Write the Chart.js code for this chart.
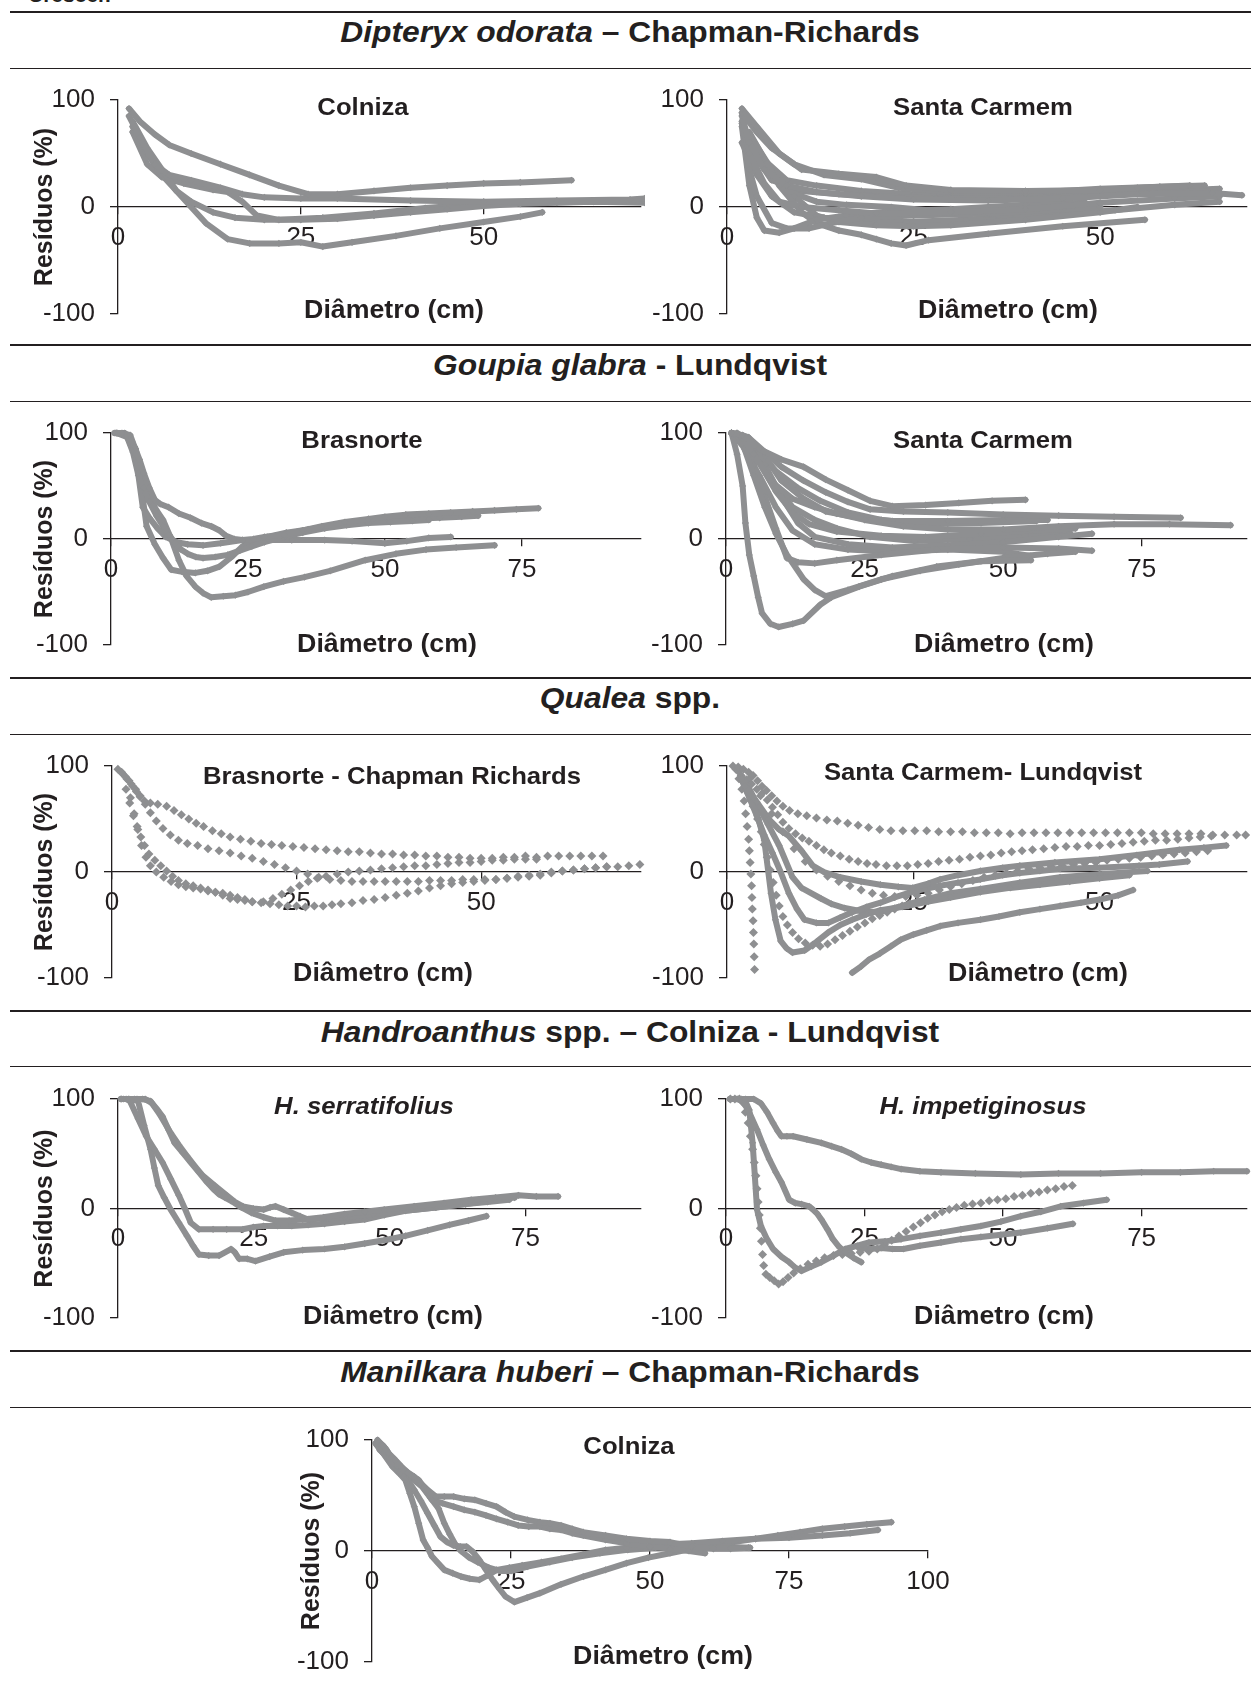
<!DOCTYPE html>
<html lang="pt">
<head>
<meta charset="UTF-8">
<title>Resíduos por diâmetro</title>
<script src="https://cdn.jsdelivr.net/npm/chart.js"></script>
<style>
  body { margin: 0; background: #fff; }
  #page { position: relative; width: 1251px; height: 1684px; overflow: hidden;
          font-family: "Liberation Sans", Arial, sans-serif; color: #231f20; }
  .rule { position: absolute; left: 10px; right: 0; background: #231f20; }
  .thick { height: 2px; }
  .thin { height: 1.3px; }
  .head { position: absolute; left: 0; width: 1260px; text-align: center;
          font-size: 30px; font-weight: bold; line-height: 1; white-space: nowrap;
          transform: scaleX(1.06); transform-origin: 630px 0; }
  .frag { position: absolute; left: 28px; top: -17px; font-size: 21px; font-weight: bold; }
  canvas { position: absolute; }
</style>
</head>
<body>
<div id="page">
  <div class="frag">Crescer.</div>
  <div class="rule thick" style="top:11px"></div>
  <div class="head" style="top:17px"><i>Dipteryx odorata</i> – Chapman-Richards</div>
  <div class="rule thin" style="top:67.5px"></div>
  <div class="rule thick" style="top:344px"></div>
  <div class="head" style="top:350px"><i>Goupia glabra</i> - Lundqvist</div>
  <div class="rule thin" style="top:400.5px"></div>
  <div class="rule thick" style="top:677px"></div>
  <div class="head" style="top:683px"><i>Qualea</i> spp.</div>
  <div class="rule thin" style="top:733.5px"></div>
  <div class="rule thick" style="top:1010px"></div>
  <div class="head" style="top:1017px"><i>Handroanthus</i> spp. – Colniza - Lundqvist</div>
  <div class="rule thin" style="top:1065.5px"></div>
  <div class="rule thick" style="top:1350px"></div>
  <div class="head" style="top:1357px"><i>Manilkara huberi</i> – Chapman-Richards</div>
  <div class="rule thin" style="top:1406.5px"></div>
</div>

<script>
// ---- data: residuals (%) against diameter (cm), one [x, y] list per tree ----
const dipteryxColniza = [
  [[1.5,92],[3,80],[5,68],[7,58],[10,50],[14,40],[18,30],[22,20],[26,12],[30,12],[35,15],[40,18],[45,20],[50,22],[55,23],[62,25]],
  [[1.5,85],[3,65],[5,40],[7,30],[10,25],[14,18],[17,12],[20,9],[25,8],[30,8],[40,6],[50,5],[60,6],[70,7],[72,8]],
  [[2,80],[4,55],[6,35],[8,15],[10,5],[13,-5],[16,-10],[20,-12],[25,-12],[30,-11],[35,-8],[40,-5],[45,-2],[50,1],[55,3],[60,4],[65,5],[72,6]],
  [[2,75],[4,50],[6,30],[8,15],[10,0],[12,-15],[15,-30],[18,-34],[22,-34],[25,-33],[28,-37],[32,-33],[38,-27],[44,-20],[50,-14],[55,-9],[58,-5]],
  [[2,70],[4,40],[6,28],[9,22],[13,16],[15,14],[17,5],[19,-8],[22,-12],[28,-10],[35,-6],[42,-1],[48,2],[55,4],[65,5],[72,4]]
];
const dipteryxSantaCarmem = [
  [[2,92],[4,75],[7,50],[10,35],[15,31],[20,28],[24,20],[30,16],[40,15],[50,16],[55,18],[62,20]],
  [[2,88],[4,70],[6,55],[9,40],[13,30],[18,26],[23,18],[30,14],[40,13],[50,17],[58,19],[64,20]],
  [[2,85],[3,60],[5,35],[8,20],[12,14],[18,10],[25,7],[35,6],[45,8],[55,12],[65,13],[69,11]],
  [[2,80],[3,50],[5,22],[7,5],[10,0],[15,-3],[20,-6],[30,-5],[40,-2],[50,4],[60,8],[66,10]],
  [[2,78],[3,35],[4,10],[6,-15],[8,-20],[11,-20],[14,-15],[18,-10],[25,-8],[35,-6],[45,-2],[50,0]],
  [[2,75],[3,20],[4,-10],[5,-22],[7,-24],[9,-20],[12,-12],[16,-8],[22,-4],[30,-2],[40,2],[48,4]],
  [[3,70],[5,45],[7,20],[10,-5],[12,-15],[15,-22],[18,-26],[20,-30],[22,-34],[24,-36],[27,-31],[35,-25],[45,-18],[56,-12]],
  [[3,68],[6,35],[9,10],[12,-8],[15,-14],[20,-17],[25,-18],[30,-17],[40,-12],[50,-5],[55,0]],
  [[3,65],[5,40],[8,15],[12,5],[16,2],[22,0],[30,-5],[38,-8],[45,-6]],
  [[2,60],[4,30],[6,10],[9,-5],[13,-10],[18,-12],[24,-14],[32,-12],[42,-8],[52,-3],[60,2],[66,5]],
  [[3,55],[6,25],[10,15],[15,12],[20,10],[28,8],[38,9],[48,12],[58,15],[66,17]],
  [[4,50],[8,25],[12,20],[18,15],[25,12],[35,10],[45,12],[55,15],[62,18]]
];
const goupiaBrasnorte = [
  [[0.6,100],[2,100],[3.5,98],[4.3,87],[5.2,75],[6,62],[7,48],[8,37],[9,33],[10.5,30],[12.4,24],[14.5,20],[16.5,15],[18.3,12],[19.8,8],[21,3],[22.5,0],[24,-1],[26,0],[28,2],[31.6,4],[35,8],[38.5,12],[42.7,16],[47,19],[50,21],[53.8,23],[58,24],[62,25],[66,26],[70,27],[74,28],[78,29]],
  [[0.8,100],[2.5,100],[3.8,92],[4.5,80],[5,62],[6,48],[7,35],[8.3,22],[9.5,12],[10.6,4],[11.7,-4],[12.8,-10],[14,-14],[15.5,-17],[16.8,-18],[19,-17],[21.3,-15],[23.5,-11],[25.7,-7],[28,-3],[31.6,2],[35,6],[39,10],[43,13],[47,15],[51,16],[55,17],[58,18]],
  [[1,100],[2.8,98],[4,82],[5,60],[5.8,30],[7,20],[8.5,10],[10,2],[12,-3],[14,-5],[16.8,-6],[20,-4],[24,-1],[28,-1],[33,-1],[39,-1],[44,-2],[50,-4],[54,-2],[58,1],[62,2]],
  [[1.2,100],[3,97],[4.5,85],[5.8,56],[7,40],[8.2,28],[9.5,18],[11,0],[12.4,-20],[13.8,-35],[15.4,-45],[16.8,-51],[18.3,-55],[20.5,-54],[22.7,-53],[25,-50],[27.9,-45],[31.5,-40],[35.3,-36],[40,-30],[46.4,-20],[52,-14],[57.5,-10],[63,-8],[70,-6]],
  [[1,100],[3,96],[4.4,80],[5.5,50],[6.5,12],[8,-5],[9.5,-18],[11,-29],[13,-31],[15.4,-32],[17.6,-30],[19.8,-26],[22,-17],[24,-7],[26,-2],[28.5,2],[32,6],[36,9],[40,12],[45,15],[50,17],[55,19],[60,20],[64,21],[67,22]]
];
const goupiaSantaCarmem = [
  [[1,100],[3,98],[6,85],[10,75],[14,68],[18,56],[22,46],[26,36],[30,31],[36,32],[42,34],[48,36],[54,37]],
  [[1,100],[4,96],[7,82],[10,68],[14,55],[18,44],[22,35],[26,28],[32,26],[40,25],[50,23],[60,22],[70,21],[82,20]],
  [[1,100],[3,95],[5,80],[8,55],[12,38],[16,30],[20,24],[25,18],[32,12],[40,9],[50,9],[60,12],[70,14],[80,14],[91,13]],
  [[1,100],[2,80],[3,50],[3.5,15],[4.2,-15],[5,-35],[5.8,-55],[6.5,-70],[8,-80],[9.5,-83],[12,-80],[14,-77],[17,-62],[19,-55],[24,-45],[30,-35],[38,-26],[46,-21],[55,-20]],
  [[1,100],[3,90],[5,60],[7,30],[9,5],[11,-15],[14,-38],[16,-48],[18,-54],[22,-48],[28,-38],[35,-30],[42,-24],[50,-18],[58,-14],[63,-12]],
  [[1,100],[3,92],[5,70],[7,40],[9,10],[11,-18],[13,-22],[16,-23],[20,-20],[28,-15],[38,-10],[50,-8],[60,-9],[66,-11]],
  [[1,100],[3,94],[6,72],[9,45],[12,25],[15,14],[20,7],[28,3],[36,2],[46,5],[55,8],[63,10]],
  [[1,100],[4,92],[7,70],[10,40],[13,15],[16,2],[22,-5],[30,-8],[40,-6],[50,-3],[60,2],[66,5]],
  [[1,100],[3,88],[6,60],[9,30],[12,8],[16,-5],[22,-10],[30,-12],[40,-10],[50,-12],[55,-16]],
  [[1,100],[4,96],[7,78],[10,55],[14,38],[18,26],[24,20],[30,17],[40,17],[50,18],[58,18]],
  [[1,100],[3,96],[6,75],[9,50],[12,30],[16,18],[20,10],[26,2],[34,-2],[44,0],[54,3],[62,6]],
  [[2,100],[5,88],[9,64],[13,48],[17,36],[22,25],[28,18],[36,14],[46,15],[56,17]]
];
const qualeaBrasnorteDots = [
  [[0.8,97],[1.3,94],[1.8,90],[2.3,86],[2.8,81],[3.3,76],[3.8,71],[4.4,67],[5.2,65],[6.2,64],[7.4,62],[8.4,58],[9.4,54],[10.4,50],[11.4,46],[12.4,43],[13.6,39],[14.8,36],[16,33],[17.4,31],[18.8,29],[20.2,27],[21.6,26],[23,25],[24.5,24],[26,23],[27.5,22],[29,21],[30.5,20],[32,19],[33.5,19],[35,18],[36.5,17],[38,17],[39.5,16],[41,16],[42.5,15],[44,15],[45.5,14],[47,14],[48.5,13],[50,13],[51.5,13],[53,14],[54.5,14],[56,15],[57.5,14],[59,15],[60.5,15],[62,15],[63.5,15],[65,15],[66.5,15]],
  [[1.4,93],[2,88],[2.6,83],[3.2,78],[3.8,72],[4.5,64],[5.2,56],[6,48],[6.9,41],[7.9,35],[9,30],[10.2,27],[11.6,25],[13,22],[14.5,20],[16,18],[17.5,15],[19,13],[20.5,10],[22,7],[23.5,4],[25,1],[26.5,-2],[28,-5],[29.5,-7],[31,-8],[32.5,-9],[34,-9],[35.5,-9],[37,-9],[38.5,-9],[40,-9],[41.5,-9],[43,-8],[44.5,-8],[46,-8],[47.5,-7],[49,-7],[50.5,-7],[52,-7],[53.5,-6],[55,-4],[56.5,-3],[58,-2],[59.5,0],[61,1],[62.5,2],[64,3],[65.5,4],[67,5],[68.5,5],[70,6],[71.5,7]],
  [[1.9,78],[2.4,65],[2.9,53],[3.4,43],[3.9,33],[4.4,25],[5,17],[5.8,11],[6.6,6],[7.4,1],[8.2,-4],[9,-8],[10,-11],[11,-13],[12,-15],[13,-17],[14,-19],[15,-22],[16,-25],[17,-26],[18,-27],[19,-28],[20.5,-28],[21.8,-25],[23,-21],[24.2,-17],[25.4,-13],[26.6,-9],[27.8,-6],[29,-4],[30.5,-2],[32,0],[33.5,1],[35,2],[36.5,3],[38,4],[39.5,5],[41,6],[42.5,6],[44,7],[45.5,8],[47,9],[48.5,9],[50,10],[51.5,11],[53,11],[54.5,12],[56,12],[57.5,12]],
  [[2.5,70],[3,55],[3.5,40],[4,25],[4.6,14],[5.2,6],[6,0],[7,-5],[8,-9],[9,-12],[10,-14],[11,-15],[12,-16],[13,-18],[14,-19],[15,-20],[16,-22],[17,-24],[18,-26],[19,-28],[20.2,-29],[21.4,-30],[22.6,-31],[23.8,-32],[25,-32],[26.2,-33],[27.4,-32],[28.6,-32],[29.8,-31],[31,-30],[32.5,-29],[34,-27],[35.5,-26],[37,-24],[38.5,-22],[40,-20],[41.5,-18],[43,-15],[44.5,-13],[46,-11],[47.5,-10],[49,-9],[50.5,-8],[52,-7],[53.5,-6],[55,-5],[56.5,-4],[58,-3],[59.5,-1],[61,1],[62.5,2],[64,3],[65.5,4],[67,5]]
];
const qualeaSantaCarmem = [
  [[2.4,81],[4,66],[5.6,50],[7,40],[8.3,34],[10,20],[11.5,6],[13,0],[15.2,-5],[18,-9],[20.6,-12],[23,-14],[24.9,-15],[27,-11],[28.6,-7],[31,-3],[34,1],[37,4],[39.3,6],[44,9],[50,12],[55,16],[60.7,21],[64,23],[67,25]],
  [[1.9,88],[3,70],[4,53],[5,35],[6.1,18],[7.2,0],[8.3,-20],[9.4,-35],[10.4,-45],[12,-48],[13.6,-48],[15.2,-43],[16.8,-38],[18.7,-33],[20.6,-29],[22.5,-24],[24.3,-20],[26.5,-16],[28.6,-13],[31,-10],[34,-7],[37,-3],[39.3,-1],[42,1],[44.7,3],[50,4],[55.3,6],[58,7],[61.8,10]],
  [[2,90],[3,75],[4,55],[5,30],[5.9,-20],[6.5,-45],[7.2,-65],[8,-72],[8.8,-76],[10.4,-74],[12,-66],[13.6,-57],[15.2,-50],[16.8,-45],[18.7,-40],[20.6,-36],[22.5,-34],[24.3,-32],[27,-28],[30,-24],[34,-19],[38,-15],[42,-12],[46,-9],[50,-6],[54,-3]],
  [[16.8,-95],[18,-89],[19,-83],[20.5,-77],[22,-70],[23.3,-64],[25,-59],[26.8,-55],[28.6,-51],[31,-48],[34,-45],[36.5,-42],[39.3,-38],[42,-35],[44.7,-32],[47.5,-29],[50,-26],[52.5,-22],[54.5,-17]],
  [[2.5,85],[4,65],[5.5,45],[7,25],[8.8,-5],[10,-15],[12.6,-25],[14,-30],[15.8,-34],[18,-37],[20.6,-38],[23,-33],[26.5,-26],[30,-20],[34,-16],[39.3,-10],[44.7,-5],[50,-2],[56.4,1]]
];
const qualeaSantaCarmemDots = [
  [[0.8,100],[1.5,99],[2.2,97],[2.9,94],[3.5,91],[4.1,86],[4.7,81],[5.3,77],[6,72],[6.7,67],[7.5,62],[8.4,58],[9.5,55],[10.7,53],[12,51],[13.4,49],[14.8,48],[16.2,46],[17.6,44],[19,42],[20.5,40],[22,39],[23.6,39],[25.2,39],[26.8,39],[28.4,38],[30,38],[31.6,38],[33.2,37],[34.8,37],[36.4,37],[38,36],[39.6,37],[41.2,37],[42.8,37],[44.4,37],[46,37],[47.6,37],[49.2,37],[50.8,37],[52.4,37],[54,37],[55.6,37],[57.2,36],[58.8,36],[60.4,36],[62,36],[63.6,36],[65.2,35],[66.8,35],[68.4,35],[69.6,35]],
  [[1.9,91],[2.6,87],[3.3,83],[4,78],[4.7,74],[5.4,68],[6.1,61],[6.8,54],[7.5,47],[8.3,41],[9.2,36],[10.1,32],[11,29],[12,25],[13,21],[14,18],[15.2,15],[16.4,12],[17.6,10],[18.8,8],[20,7],[21.4,6],[22.8,6],[24.2,6],[25.6,7],[27,8],[28.4,10],[29.8,11],[31.2,12],[32.6,14],[34,15],[35.4,16],[36.8,18],[38.2,19],[39.6,20],[41,21],[42.5,22],[44,23],[45.5,24],[47,24],[48.5,25],[50,25],[51.5,26],[53,27],[54.5,28],[56,29],[57.5,30],[59,30],[60.5,31],[62,32],[63.5,33],[65,34]],
  [[1.2,97],[1.6,88],[2,78],[2.3,67],[2.5,55],[2.7,43],[2.9,31],[3,20],[3.1,9],[3.2,-2],[3.3,-13],[3.35,-24],[3.4,-35],[3.5,-46],[3.55,-57],[3.6,-68],[3.65,-80],[3.7,-92]],
  [[1.5,95],[2.2,85],[2.9,74],[3.5,62],[4.1,50],[4.6,38],[5,26],[5.4,14],[5.8,2],[6.2,-10],[6.6,-22],[7,-32],[7.5,-42],[8.1,-50],[8.8,-57],[9.6,-63],[10.5,-67],[11.5,-69],[12.5,-70],[13.5,-68],[14.5,-64],[15.5,-60],[16.5,-56],[17.5,-52],[18.5,-48],[19.5,-44],[20.5,-41],[21.5,-38],[22.5,-35],[23.5,-32],[24.5,-30]],
  [[3,88],[4.5,72],[6,55],[7.5,38],[9,22],[10.5,10],[12,2],[13.5,-4],[15,-9],[16.5,-13],[18,-17],[19.5,-20],[21,-22],[22.5,-23],[24,-23],[25.5,-22],[27,-20],[28.5,-17],[30,-14],[31.5,-11],[33,-8],[34.5,-5],[36,-3],[37.5,-1],[39,1],[40.5,3],[42,4],[43.5,5],[45,6],[46.5,7],[48,8],[49.5,9],[51,11],[52.5,12],[54,13],[55.5,14],[57,15],[58.5,16],[60,17],[61.5,18],[63,19],[64.5,20]]
];
const serratifolius = [
  [[0.7,100],[2,100],[3.5,100],[5,100],[6.3,96],[7.3,90],[8.2,84],[9.3,72],[10.4,60],[11.9,51],[13.4,42],[14.9,33],[16.4,24],[17.5,18],[18.6,13],[19.7,10],[20.8,7],[22.7,1],[24.6,-4],[26.8,-8],[29,-11],[31.5,-11],[34,-10],[37.8,-8],[41.7,-5],[45.4,-3],[49,-1],[54.5,2],[60,5],[65,8],[69.5,10],[73.7,12],[77,11],[81,11]],
  [[1,100],[3,100],[4.5,100],[6,98],[7.8,85],[9.7,69],[11.2,58],[12.7,48],[14.1,39],[15.6,30],[17.8,21],[20,12],[21.5,6],[23,2],[24.9,0],[26.8,-1],[28,1],[29,2],[30.5,-1],[32,-4],[33.5,-7],[35,-10],[38.5,-9],[41.7,-8],[47,-5],[52.9,-2],[58.5,1],[64,4],[68.5,7],[73,10]],
  [[0.6,100],[1.5,100],[2.2,98],[3.7,82],[5.2,66],[6.7,54],[8.2,42],[9.7,27],[11.2,12],[12.3,0],[13.4,-13],[14.9,-19],[17.5,-19],[20,-19],[23,-19],[24.9,-17],[26.8,-16],[29.4,-16],[32,-16],[35,-15],[38,-14],[41.7,-12],[45.4,-10],[49,-6],[52.9,-2],[58.5,1],[64,4],[68,6],[72,8]],
  [[0.5,100],[2,100],[3.7,98],[4.8,76],[6,54],[6.7,37],[7.4,21],[8.5,10],[9.7,-1],[11.2,-13],[12.7,-25],[13.8,-34],[14.9,-42],[16.7,-43],[18.6,-43],[20.8,-37],[21.5,-40],[22.3,-46],[23.8,-46],[25.3,-48],[27.9,-44],[30.5,-40],[34,-38],[38,-37],[41.7,-35],[45.4,-32],[49,-29],[52.9,-25],[57,-20],[61,-15],[64.5,-11],[67.8,-7]]
];
const impetiginosus = [
  [[0.7,100],[2,100],[3.5,100],[5,100],[6.3,96],[7.4,88],[8.5,78],[9.3,71],[10,66],[11,66],[12.1,66],[14.6,63],[17.2,60],[19,57],[20.8,54],[22.6,50],[24.4,45],[26.2,42],[28,40],[29.8,38],[31.6,36],[35,34],[38.8,33],[45,32],[53.2,31],[60,32],[67.6,32],[75,33],[82,33],[88,34],[94,34]],
  [[2.7,100],[4,90],[5.6,72],[6.7,58],[7.8,45],[9,33],[10,24],[11.4,8],[12.5,5],[13.6,4],[15,2],[15.7,-1],[16.5,-5],[17.2,-10],[18.3,-19],[19.3,-28],[20.4,-35],[21.5,-40],[23,-45],[24.4,-49]],
  [[0.7,100],[2,100],[3.5,98],[4.2,90],[4.8,60],[5.2,30],[5.6,-1],[6.3,-16],[7.4,-28],[8.5,-37],[10,-44],[11.4,-49],[12.5,-54],[13.6,-57],[15.4,-53],[17.2,-49],[19.4,-43],[21.5,-37],[23.7,-34],[25.8,-31],[28.7,-30],[31.6,-28],[35,-25],[38.8,-22],[42.4,-19],[46,-16],[49.6,-12],[53.2,-7],[56.8,-3],[60.4,2],[64.5,5],[68.7,8]],
  [[24,-36],[26,-37],[28,-36],[30,-37],[32,-37],[35,-34],[38.8,-31],[42.4,-28],[46,-26],[49.6,-24],[53.2,-22],[58,-18],[62.6,-14]]
];
const impetiginosusDots = [
  [[0.8,100],[1.6,100],[2.4,100],[3,97],[3.5,88],[4,78],[4.4,66],[4.8,54],[5.1,42],[5.4,30],[5.6,18],[5.8,6],[6,-6],[6.2,-18],[6.4,-30],[6.6,-42],[6.8,-52],[7.2,-60],[7.9,-63],[8.7,-66],[9.5,-69],[10.3,-67],[11.2,-63],[12.2,-59],[13.4,-55],[14.8,-51],[16.3,-48],[17.8,-45],[19.4,-43],[21,-42],[22.6,-41],[24.2,-40],[25.8,-39],[27.3,-37],[28.6,-33],[29.9,-29],[31.2,-25],[32.5,-21],[33.8,-17],[35.1,-13],[36.4,-9],[37.7,-6],[39,-3],[40.3,-1],[41.6,1],[43,3],[44.5,4],[46,5],[47.5,7],[49,8],[50.5,9],[52,11],[53.5,12],[55,14],[56.5,15],[58,17],[59.5,18],[61,20],[62.5,21]]
];
const manilkaraColniza = [
  [[1,99],[2,95],[3,88],[4.2,82],[5.3,76],[6.4,71],[7.6,67],[8.8,61],[10,55],[11.5,49],[13,49],[14.7,49],[16.6,47],[18.5,46],[20.5,43],[22.4,40],[24,35],[25.6,31],[28,28],[30.2,26],[32,25],[34,23],[36,20],[38,17],[42,14],[45.8,11],[50,9],[53.6,8],[57.5,4],[61.4,2],[64.5,2],[67.7,3]],
  [[1.4,91],[3,84],[4.5,77],[6.5,70],[8.4,64],[9.6,55],[10.8,46],[12.7,43],[14.7,40],[16.6,37],[18.5,35],[20.5,32],[22.4,29],[24.4,26],[26.3,23],[28.2,22],[30.2,22],[32,20],[34,19],[36,16],[38,14],[42,10],[45.8,7],[50,4],[53.6,2],[57,0],[59.9,-2]],
  [[0.6,97],[2,88],[3.7,76],[4.9,70],[6,64],[6.8,52],[7.6,40],[8.4,25],[9.2,10],[10,3],[10.8,-5],[11.9,-11],[13,-17],[14.5,-20],[16,-23],[17.6,-25],[19.3,-26],[20.8,-22],[22.4,-17],[24.7,-15],[27,-13],[30.5,-10],[34,-7],[38,-3],[42,1],[45.8,3],[49.7,4],[53.6,6],[57.5,7],[63,9],[69,11],[75,12],[81,14],[86,16],[91,19]],
  [[1,100],[2.5,92],[4,80],[5.3,73],[6.4,64],[7.6,55],[8.8,45],[10,34],[11.2,23],[12.3,13],[13.5,8],[14.7,5],[15.9,4],[17,4],[18.2,-1],[19.3,-8],[20.5,-17],[21.7,-26],[22.9,-34],[24,-41],[25.6,-46],[27.9,-42],[30.2,-38],[34,-30],[38,-23],[42,-17],[45.8,-11],[49.7,-6],[53.6,-2],[57.5,2],[61.4,5],[65,8],[69,11],[73,14],[77,17],[81,20],[85,22],[89,24],[93.4,26]],
  [[1,95],[3,82],[5,72],[7,66],[9,58],[10.5,48],[12,38],[13,25],[14,15],[15,6],[16,0],[17.5,-6],[19,-10],[21,-15],[23,-18],[25,-18],[28,-14],[32,-10],[36,-6],[41,-2],[46,1],[51,3],[56,4],[62,4],[68,3]]
];
const yTicks = [-100, 0, 100];
const xStep = 25;

// ---- drawing ----
const GRAY = '#8e8f91';
const INK = '#231f20';
const FONT = '"Liberation Sans", Arial, sans-serif';
const PAD = 32;      // room above/below the plot for the end tick labels
const STRETCH = 1.07; // the source lettering is a little wide
Chart.defaults.font.family = FONT;
Chart.defaults.color = INK;

function wideText(ctx, text, x, y) {
  ctx.save();
  ctx.translate(x, y);
  ctx.scale(STRETCH, 1);
  ctx.fillText(text, 0, 0);
  ctx.restore();
}

const panelText = {
  id: 'panelText',
  afterDraw(chart, args, o) {
    const ctx = chart.ctx;
    ctx.save();
    ctx.fillStyle = INK;
    ctx.textAlign = 'center';
    ctx.textBaseline = 'alphabetic';
    ctx.font = (o.italic ? 'italic ' : '') + 'bold 24px ' + FONT;
    wideText(ctx, o.sub, o.subX, o.subY + 8.6);
    ctx.font = 'bold 25px ' + FONT;
    wideText(ctx, 'Diâmetro (cm)', o.xtX, o.xtY + 9);
    ctx.restore();
  }
};

const page = document.getElementById('page');

function panel(p, lines, dots) {
  const cv = document.createElement('canvas');
  const top = Math.round(p.yTop) - PAD;
  const h = Math.round(p.yBottom) - Math.round(p.yTop) + 2 * PAD;
  const w = Math.round(p.plotRight + (p.padRight || 0) - p.left);
  cv.width = w; cv.height = h;
  cv.style.left = p.left + 'px';
  cv.style.top = top + 'px';
  page.appendChild(cv);
  const yw = Math.round(p.axisX - p.left);
  const ppu = (p.tickPx - p.axisX) / p.tickVal;
  const xMax = (p.plotRight - yw - p.left) / ppu;

  const sets = lines.map(s => ({
    data: s, showLine: true, borderColor: GRAY, borderWidth: 6,
    borderJoinStyle: 'round', borderCapStyle: 'round',
    pointStyle: 'rectRot', pointRadius: 3.6, pointBackgroundColor: GRAY, pointBorderWidth: 0,
    clip: 10
  })).concat((dots || []).map(s => ({
    data: s, showLine: false, pointStyle: 'rectRot', pointRadius: 4.5,
    pointBackgroundColor: GRAY, pointBorderWidth: 0, clip: 10
  })));

  new Chart(cv, {
    type: 'scatter',
    data: { datasets: sets },
    plugins: [panelText],
    options: {
      responsive: false, animation: false, events: [],
      layout: { padding: { left: 0, right: p.padRight || 0, top: PAD, bottom: PAD } },
      plugins: {
        legend: { display: false }, tooltip: { enabled: false },
        panelText: { sub: p.sub, italic: p.italic, subX: p.subX - p.left, subY: p.subY - top,
                     xtX: p.xtX - p.left, xtY: p.xtY - top }
      },
      scales: {
        x: {
          type: 'linear', position: { y: 0 }, min: 0, max: xMax,
          grid: { drawOnChartArea: false, color: INK, lineWidth: 1.3, tickLength: 7 },
          border: { color: INK, width: 1.3 },
          ticks: { stepSize: xStep, includeBounds: false, padding: 8, font: { size: 26 }, color: INK, maxRotation: 0 }
        },
        y: {
          type: 'linear', position: 'left', min: yTicks[0], max: yTicks[2],
          afterFit: s => { s.width = yw; },
          afterBuildTicks: s => { s.ticks = yTicks.map(v => ({ value: v })); },
          grid: { drawOnChartArea: false, color: INK, lineWidth: 1.3, tickLength: 8 },
          border: { color: INK, width: 1.3 },
          ticks: { padding: 15, font: { size: 26 }, color: INK },
          title: { display: !!p.yTitle, text: 'Resíduos (%)', font: { size: 25, weight: 'bold' },
                   color: INK, padding: 0 }
        }
      }
    }
  });
}

panel({ left: 30, axisX: 118, tickVal: 50, tickPx: 486.5, plotRight: 645, yTop: 99.5, yBottom: 313.5,
        yTitle: true, sub: 'Colniza', subX: 363, subY: 106, xtX: 394, xtY: 309 }, dipteryxColniza);
panel({ left: 650, axisX: 726.5, tickVal: 50, tickPx: 1102.5, plotRight: 1251, yTop: 99.5, yBottom: 313.5,
        sub: 'Santa Carmem', subX: 983, subY: 106, xtX: 1008, xtY: 309 }, dipteryxSantaCarmem);
panel({ left: 30, axisX: 111, tickVal: 75, tickPx: 525, plotRight: 645, yTop: 433, yBottom: 645,
        yTitle: true, sub: 'Brasnorte', subX: 362, subY: 439, xtX: 387, xtY: 643 }, goupiaBrasnorte);
panel({ left: 650, axisX: 725.5, tickVal: 75, tickPx: 1144.5, plotRight: 1251, yTop: 433, yBottom: 645,
        sub: 'Santa Carmem', subX: 983, subY: 439, xtX: 1004, xtY: 643 }, goupiaSantaCarmem);
panel({ left: 30, axisX: 112, tickVal: 50, tickPx: 484.3, plotRight: 645, yTop: 766, yBottom: 977.5,
        yTitle: true, sub: 'Brasnorte - Chapman Richards', subX: 392, subY: 775, xtX: 383, xtY: 972 },
      [], qualeaBrasnorteDots);
panel({ left: 650, axisX: 726.5, tickVal: 50, tickPx: 1102.3, plotRight: 1251, yTop: 766, yBottom: 977.5,
        sub: 'Santa Carmem- Lundqvist', subX: 983, subY: 771, xtX: 1038, xtY: 972 },
      qualeaSantaCarmem, qualeaSantaCarmemDots);
panel({ left: 30, axisX: 118.4, tickVal: 75, tickPx: 529, plotRight: 645, yTop: 1099.3, yBottom: 1317.5,
        yTitle: true, sub: 'H. serratifolius', italic: true, subX: 364, subY: 1105, xtX: 393, xtY: 1315 }, serratifolius);
panel({ left: 650, axisX: 725.5, tickVal: 75, tickPx: 1144.7, plotRight: 1251, yTop: 1099.3, yBottom: 1317.5,
        sub: 'H. impetiginosus', italic: true, subX: 983, subY: 1105, xtX: 1004, xtY: 1315 },
      impetiginosus, impetiginosusDots);
panel({ left: 297, axisX: 372, tickVal: 100, tickPx: 928.3, plotRight: 928.3, padRight: 30, yTop: 1439.5, yBottom: 1661.5,
        yTitle: true, sub: 'Colniza', subX: 629, subY: 1445, xtX: 663, xtY: 1655 }, manilkaraColniza);
</script>
</body>
</html>
